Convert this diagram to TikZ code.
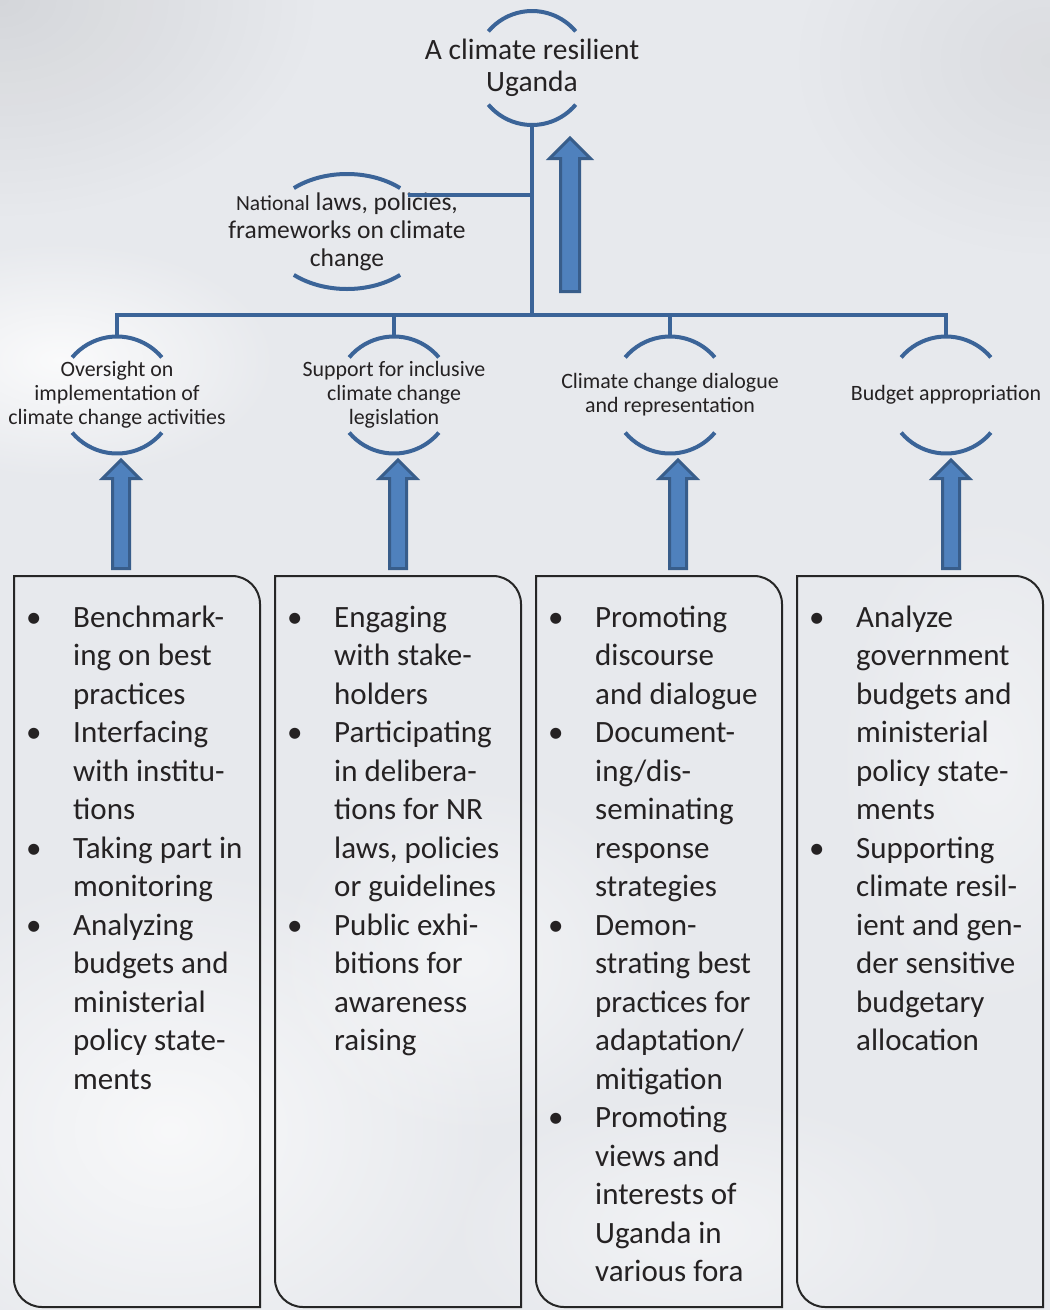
\documentclass[tikz,border=0pt]{standalone}
\usepackage{fontspec}
\setmainfont{Carlito}
\usetikzlibrary{
  positioning,
  fadings
}
\definecolor{lineBlue}{RGB}{59,100,152}
\definecolor{liftFill}{RGB}{79,129,189}
\definecolor{liftEdge}{RGB}{56,93,138}
\definecolor{skyGray}{RGB}{231,233,237}
\definecolor{inkGray}{RGB}{37,34,35}
\tikzfading[name=puff, inner color=transparent!0, outer color=transparent!100]
% ring: name, placement, x radius, y radius, arc start, text
\newcommand{\ugRing}[6]{%
  \node[ring, #2] (#1) {#6};
  \draw[ringline] ([shift={(#5:#3 and #4)}]#1.center)
    arc[start angle=#5, end angle=180-#5, x radius=#3, y radius=#4];
  \draw[ringline] ([shift={(-#5:#3 and #4)}]#1.center)
    arc[start angle=-#5, end angle=-180+#5, x radius=#3, y radius=#4];
  \coordinate (#1-t) at ([yshift=#4]#1.center);
  \coordinate (#1-b) at ([yshift=-#4]#1.center);
}
% block arrow: name, tip, length, shaft half width, head half width
\newcommand{\ugLift}[5]{%
  \filldraw[lift] (#2) coordinate (#1)
    -- ++(#5,-#5) -- ++({#4-#5},0) -- ++(0,{#5-#3})
    -- ++({-2*#4},0) -- ++(0,{#3-#5}) -- ++({#4-#5},0) -- cycle;
}
% list box: name, placement, rows
\newcommand{\ugBox}[3]{%
  \node[listbox, #2] (#1) {};
  \draw[boxline] (#1.north west) -- ([xshift=-28pt]#1.north east)
    arc[start angle=90, end angle=0, radius=28pt] -- (#1.south east)
    -- ([xshift=28pt]#1.south west)
    arc[start angle=270, end angle=180, radius=28pt] -- cycle;
  \node[listtext, below right=24pt and 12pt of #1.north west] (#1-list)
    {\begin{tabular}{@{}p{47pt}@{}l@{}}#3\end{tabular}};
}
\tikzset{
  ring/.style={
    align=center,
    inner sep=0pt,
    text=inkGray,
    font=\fontsize{21.9pt}{24pt}\selectfont
  },
  ringline/.style={draw=lineBlue, line width=4pt},
  treeline/.style={draw=lineBlue, line width=4pt},
  lift/.style={
    draw=liftEdge,
    fill=liftFill,
    line width=3pt,
    line join=miter
  },
  listbox/.style={
    rectangle,
    inner sep=0pt,
    outer sep=0pt,
    minimum width=246pt,
    minimum height=731pt
  },
  boxline/.style={draw=black!85, line width=2pt},
  listtext/.style={
    anchor=north west,
    inner sep=0pt,
    text=inkGray,
    font=\fontsize{31pt}{38.5pt}\selectfont
  }
}

\begin{document}
\begin{tikzpicture}[
    x=1pt,
    y=1pt,
    node distance=15pt
  ]
  \useasboundingbox (0,0) rectangle (1050,-1310);
  % sky
  \fill[skyGray] (0,0) rectangle (1050,-1310);
  \fill[black, opacity=.08, path fading=puff] (0,0) ellipse (320pt and 220pt);
  \fill[black, opacity=.05, path fading=puff] (1050,-60) ellipse (260pt and 200pt);
  \fill[white, opacity=.8, path fading=puff] (60,-360) ellipse (220pt and 120pt);
  \fill[white, opacity=.7, path fading=puff] (170,-1130) ellipse (330pt and 270pt);
  \fill[white, opacity=.5, path fading=puff] (470,-960) ellipse (200pt and 180pt);
  \fill[white, opacity=.45, path fading=puff] (700,-1230) ellipse (260pt and 140pt);
  \fill[white, opacity=.4, path fading=puff] (990,-760) ellipse (160pt and 260pt);

  % goal and the laws feeding it
  \ugRing{goal}{at={(532,-68)}, font=\fontsize{29.5pt}{32pt}\selectfont}{57pt}{57pt}{40}
    {A climate resilient\\Uganda}
  \ugRing{laws}{at={(347,-231.5)}, font=\fontsize{25.5pt}{28pt}\selectfont}{81pt}{57.5pt}{49}
    {{\fontsize{21.5pt}{28pt}\selectfont National} laws, policies,\\frameworks on climate\\change}

  % parliament roles
  \ugRing{over}{at={(117,-395)}}{58.5pt}{58.5pt}{40}
    {Oversight on\\implementation of\\climate change activities}
  \ugRing{support}{on grid, right=277pt of over}{58.5pt}{58.5pt}{40}
    {Support for inclusive\\climate change\\legislation}
  \ugRing{dialogue}{on grid, right=276pt of support}{58.5pt}{58.5pt}{40}
    {Climate change dialogue\\and representation}
  \ugRing{budget}{on grid, right=276pt of dialogue}{58.5pt}{58.5pt}{40}
    {Budget appropriation}

  % tree
  \coordinate (bar) at ([yshift=22pt]over-t);
  \coordinate (join) at ([shift={(61pt,36.5pt)}]laws.center);
  \draw[treeline] (over-t) -- (bar) -| (budget-t);
  \draw[treeline] (goal-b) -- (goal-b |- bar);
  \draw[treeline] (support-t) -- (support-t |- bar);
  \draw[treeline] (dialogue-t) -- (dialogue-t |- bar);
  \draw[treeline] (join) -- (join -| goal-b);

  % block arrows
  \ugLift{liftgoal}{[shift={(38pt,-13pt)}]goal-b}{153.5}{9.5}{20.5}
  \ugLift{lift1}{[shift={(4pt,-6.5pt)}]over-b}{108.5}{8.5}{18.5}
  \ugLift{lift2}{[shift={(4pt,-6.5pt)}]support-b}{108.5}{8.5}{18.5}
  \ugLift{lift3}{[shift={(8pt,-6.5pt)}]dialogue-b}{108.5}{8.5}{18.5}
  \ugLift{lift4}{[shift={(5pt,-6.5pt)}]budget-b}{108.5}{8.5}{18.5}

  % activities
  \ugBox{box1}{anchor=north west, at={(14,-576)}}{%
    \textbullet & Benchmark-\\ & ing on best\\ & practices\\
    \textbullet & Interfacing\\ & with institu-\\ & tions\\
    \textbullet & Taking part in\\ & monitoring\\
    \textbullet & Analyzing\\ & budgets and\\ & ministerial\\ & policy state-\\ & ments}
  \ugBox{box2}{right=of box1}{%
    \textbullet & Engaging\\ & with stake-\\ & holders\\
    \textbullet & Participating\\ & in delibera-\\ & tions for NR\\ & laws, policies\\ & or guidelines\\
    \textbullet & Public exhi-\\ & bitions for\\ & awareness\\ & raising}
  \ugBox{box3}{right=of box2}{%
    \textbullet & Promoting\\ & discourse\\ & and dialogue\\
    \textbullet & Document-\\ & ing/dis-\\ & seminating\\ & response\\ & strategies\\
    \textbullet & Demon-\\ & strating best\\ & practices for\\ & adaptation/\\ & mitigation\\
    \textbullet & Promoting\\ & views and\\ & interests of\\ & Uganda in\\ & various fora}
  \ugBox{box4}{right=of box3}{%
    \textbullet & Analyze\\ & government\\ & budgets and\\ & ministerial\\ & policy state-\\ & ments\\
    \textbullet & Supporting\\ & climate resil-\\ & ient and gen-\\ & der sensitive\\ & budgetary\\ & allocation}
\end{tikzpicture}
\end{document}
